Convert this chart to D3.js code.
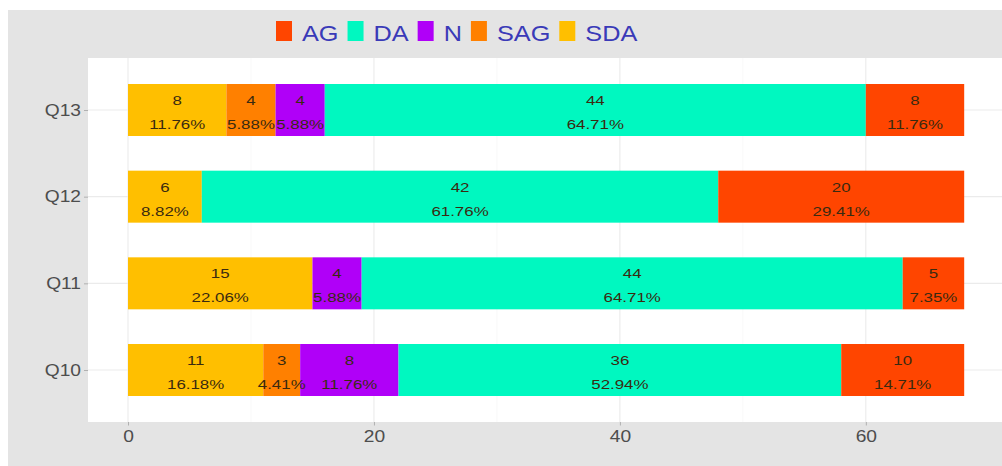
<!DOCTYPE html>
<html>
<head>
<meta charset="utf-8">
<script src="https://cdn.jsdelivr.net/npm/d3@7"></script>
<style>
  body { margin: 0; background: #fff; }
  svg { display: block; font-family: "Liberation Sans", Arial, sans-serif; }
</style>
</head>
<body>
<svg id="chart" width="1002" height="466"></svg>
<script>
// categories, bottom to top on the chart
const questions = ['Q10', 'Q11', 'Q12', 'Q13'];
const levels = ['SDA', 'SAG', 'N', 'DA', 'AG'];   // stacking order, left to right
const legendOrder = ['AG', 'DA', 'N', 'SAG', 'SDA'];

// counts per question, in the order of questions
const sdaCounts = [11, 15, 6, 8];
const sagCounts = [3, 0, 0, 4];
const nCounts = [8, 4, 0, 4];
const daCounts = [36, 44, 42, 44];
const agCounts = [10, 5, 20, 8];

const xTicks = [0, 20, 40, 60];
const xMinor = [10, 30, 50];

const colors = {AG: '#ff4500', DA: '#00f8c0', N: '#b000f8', SAG: '#ff8000', SDA: '#ffbf00'};

const countsByLevel = {SDA: sdaCounts, SAG: sagCounts, N: nCounts, DA: daCounts, AG: agCounts};

// the original picture is a bit stretched sideways, so the text is too
const STRETCH_AXIS = 1.2;
const STRETCH_LABEL = 1.3;
const STRETCH_LEGEND = 1.15;

let rows = questions.map((q, i) => {
    let row = {q: q};
    levels.forEach(l => row[l] = countsByLevel[l][i]);
    row.total = d3.sum(levels, l => row[l]);
    return row;
});

const svg = d3.select('#chart');

// plot background
svg.append('rect').attr('x', 8).attr('y', 10).attr('width', 994).attr('height', 456).attr('fill', '#e4e4e4');

const panel = {left: 88, top: 58, right: 1002, bottom: 422};

const x = d3.scaleLinear().domain([-3.4, 71.4]).range([86.2, 1006]);
const y = d3.scalePoint().domain(questions.slice().reverse())
    .range([panel.top, panel.bottom]).padding(0.6);
const barH = y.step() * 0.6;

svg.append('rect')
    .attr('x', panel.left).attr('y', panel.top)
    .attr('width', panel.right - panel.left).attr('height', panel.bottom - panel.top)
    .attr('fill', '#ffffff');

let grid = svg.append('g');
xMinor.forEach(t => {
    grid.append('line').attr('x1', x(t)).attr('x2', x(t))
        .attr('y1', panel.top).attr('y2', panel.bottom)
        .attr('stroke', '#f4f4f4').attr('stroke-width', 0.6);
});
xTicks.forEach(t => {
    grid.append('line').attr('x1', x(t)).attr('x2', x(t))
        .attr('y1', panel.top).attr('y2', panel.bottom)
        .attr('stroke', '#ebebeb').attr('stroke-width', 1.1);
});
questions.forEach(q => {
    grid.append('line').attr('x1', panel.left).attr('x2', panel.right)
        .attr('y1', y(q)).attr('y2', y(q))
        .attr('stroke', '#ebebeb').attr('stroke-width', 1.1);
});

// stacked bars
const stack = d3.stack().keys(levels)(rows);

let series = svg.append('g').selectAll('g')
    .data(stack)
    .join('g')
    .attr('fill', d => colors[d.key]);

series.selectAll('rect')
    .data(d => d.filter(s => s[1] > s[0]))
    .join('rect')
    .attr('x', d => x(d[0]))
    .attr('y', d => y(d.data.q) - barH / 2)
    .attr('width', d => x(d[1]) - x(d[0]))
    .attr('height', barH);

// labels in each segment
let labels = svg.append('g')
    .attr('font-size', 13)
    .attr('fill', '#3a2a10')
    .attr('text-anchor', 'middle');

function stretchedText(parent, tx, ty, sx, str) {
    return parent.append('text')
        .attr('transform', `translate(${tx},${ty}) scale(${sx},1)`)
        .text(str);
}

stack.forEach(layer => {
    layer.filter(s => s[1] > s[0]).forEach(s => {
        let value = s[1] - s[0];
        let cx = x((s[0] + s[1]) / 2);
        let cy = y(s.data.q);
        stretchedText(labels, cx, cy - 5, STRETCH_LABEL, value);
        stretchedText(labels, cx, cy + 19, STRETCH_LABEL,
            (value / s.data.total * 100).toFixed(2) + '%');
    });
});

// axes
let xAxis = svg.append('g')
    .attr('transform', `translate(0,${panel.bottom})`)
    .call(d3.axisBottom(x).tickValues(xTicks).tickSize(3.5).tickPadding(5));
let yAxis = svg.append('g')
    .attr('transform', `translate(${panel.left},0)`)
    .call(d3.axisLeft(y).tickSize(4).tickPadding(3));

[xAxis, yAxis].forEach(a => {
    a.select('.domain').remove();
    a.selectAll('line').attr('stroke', '#b0b0b0');
    a.selectAll('text').attr('fill', '#4d4d4d').attr('font-size', 16)
        .attr('font-family', '"Liberation Sans", Arial, sans-serif');
});
yAxis.selectAll('text')
    .attr('x', -7 / STRETCH_AXIS)
    .attr('transform', `scale(${STRETCH_AXIS},1)`);
xAxis.selectAll('text')
    .attr('transform', `scale(${STRETCH_AXIS},1)`);

// legend on top
let legend = svg.append('g').attr('font-size', 22).attr('fill', '#3a3ab8');
let lx = 276;
legendOrder.forEach(k => {
    legend.append('rect').attr('x', lx).attr('y', 21).attr('width', 16).attr('height', 20)
        .attr('fill', colors[k]);
    let t = stretchedText(legend, lx + 26, 41, STRETCH_LEGEND, k);
    lx += 26 + t.node().getComputedTextLength() * STRETCH_LEGEND + 9;
});
</script>
</body>
</html>
